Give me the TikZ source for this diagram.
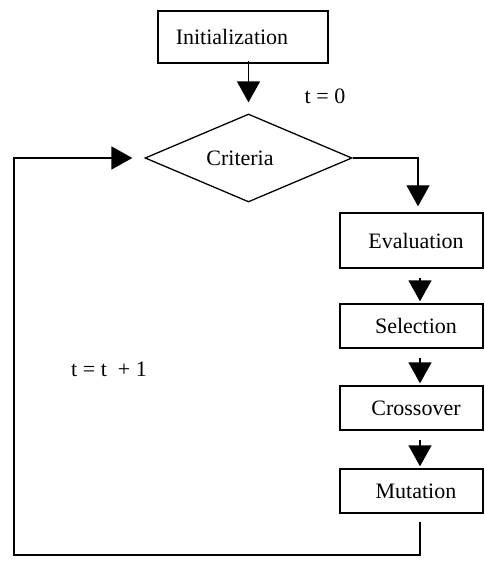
\documentclass[tikz,border=0pt]{standalone}
\usepackage{fontspec}
\setmainfont{Liberation Serif}
\usetikzlibrary{shapes.geometric,arrows.meta}
\begin{document}
\begin{tikzpicture}[x=1pt,y=-1pt,
  every node/.style={font=\fontsize{22}{26}\selectfont},
  procbox/.style={draw,line width=1.4pt,inner sep=0pt,minimum width=143pt},
  decision/.style={draw,diamond,line width=1.3pt,inner sep=0pt,minimum width=207pt,minimum height=88pt},
  arr/.style={line width=1.4pt,-{Triangle[length=21pt,width=23pt]}},
  link/.style={line width=1.4pt}]
\useasboundingbox (0,0) rectangle (484,561);
\node[procbox,minimum width=170pt,minimum height=52pt] (init) at (243,37) {\hspace*{-22pt}Initialization};
\node[decision] (crit) at (248.5,158) {\hspace*{-17pt}Criteria};
\node[procbox,minimum height=55pt] (eval) at (411.5,240.5) {\hspace*{9pt}Evaluation};
\node[procbox,minimum height=44pt] (sel) at (411.5,326) {\hspace*{9pt}Selection};
\node[procbox,minimum height=44pt] (cross) at (411.5,408) {\hspace*{9pt}Crossover};
\node[procbox,minimum height=44pt] (mut) at (411.5,491) {\hspace*{9pt}Mutation};
\node (tzero) at (325,96) {t = 0};
\node (tinc) at (109,369) {t = t \ + 1};
\coordinate (col) at (420,0);
\coordinate (bl) at (14,555);
\draw[arr] ([yshift=3pt]init.south -| crit.north) -- ([yshift=11pt]crit.north);
\draw[arr] (crit.east) -| ([yshift=6pt]eval.north -| 418,0);
\draw[arr] ([yshift=-9pt]eval.south -| col) -- ([yshift=2pt]sel.north -| col);
\draw[arr] ([yshift=-9pt]sel.south -| col) -- ([yshift=2pt]cross.north -| col);
\draw[arr] ([yshift=-9pt]cross.south -| col) -- ([yshift=2pt]mut.north -| col);
\draw[arr] ([yshift=-8pt]mut.south -| col) |- (bl) |- ([xshift=-12pt]crit.west);
\end{tikzpicture}
\end{document}
